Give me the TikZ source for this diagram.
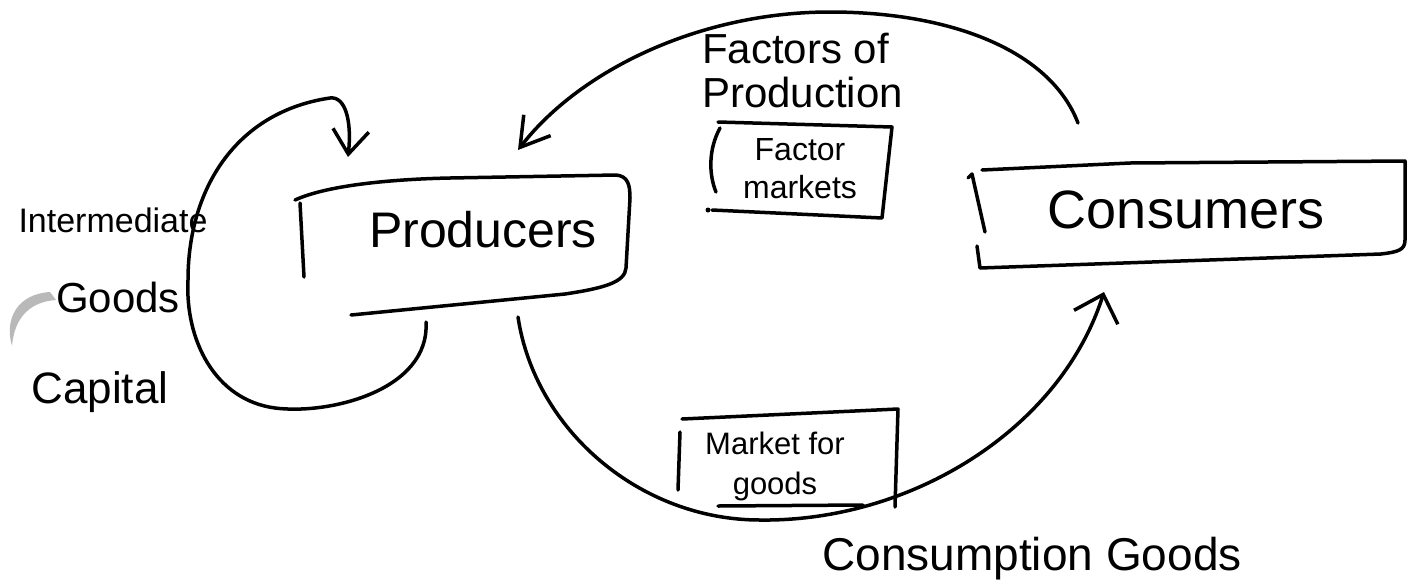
\documentclass[tikz,border=0pt]{standalone}
\usepackage{fontspec}
\setmainfont{Liberation Sans}
\usetikzlibrary{arrows.meta}
\begin{document}
\begin{tikzpicture}[x=1pt,y=-1pt,
  ink/.style={line width=3.5pt, line cap=round, line join=round},
  lbl/.style={inner sep=0pt, text=black},
  fs/.style={font=\fontsize{#1}{#1}\selectfont}]
\useasboundingbox[fill=white] (0,0) rectangle (1411,587);

% ---- labels ----
\node[lbl, fs=50] (prod) at (483,230) {Producers};
\node[lbl, fs=54] (cons) at (1186,210) {Consumers};
\node[lbl, fs=34] (interm) at (113,220) {Intermediate};
\node[lbl, fs=42] (goodsL) at (118,297) {Goods};
\node[lbl, fs=44] (capital) at (100,392) {Capital};
\node[lbl, font=\fontsize{42}{44}\selectfont, align=left, anchor=north west] (fop) at (702,33) {Factors of\\Production};
\node[lbl, font=\fontsize{32}{38}\selectfont, align=center, anchor=north] (fm) at (800,138) {Factor\\markets};
\node[lbl, font=\fontsize{31}{40}\selectfont, align=center, anchor=north] (mg) at (775,432) {Market for\\goods};
\node[lbl, fs=46, anchor=base] (cg) at (1032,570) {Consumption Goods};

% grey smudge near Goods
\fill[gray!55] (50,292) .. controls (18,294) and (4,318) .. (12,346)
  .. controls (14,322) and (26,302) .. (56,300) -- cycle;

% ---- Producers box ----
\draw[ink] (300,203) -- (304,277);
\draw[ink] (295,200) .. controls (330,184) and (400,179) .. (450,178) -- (616,175)
  .. controls (628,176) and (630,185) .. (630,198) -- (626,268)
  .. controls (625,282) and (605,288) .. (565,294) -- (351,315);

% ---- Consumers box ----
\draw[ink] (968,178) -- (972,174) -- (985,232);
\draw[ink] (977,246) -- (980,268) -- (1381,254)
  .. controls (1398,252) and (1405,250) .. (1405,240) -- (1405,161) -- (1130,163) -- (982,170);

% ---- Factor markets box ----
\draw[ink] (718,122) -- (892,127) -- (882,218) -- (712,210);
\draw[ink] (720,128) .. controls (708,150) and (709,175) .. (716,192);
\fill (708,210) circle (2.5pt);

% ---- Market for goods box ----
\draw[ink] (680,432) -- (678,490);
\draw[ink] (682,419) -- (898,409) -- (895,507);
\draw[ink] (718,506) -- (863,505);

% ---- connectors ----
\coordinate (loopS) at (426,322);
\coordinate (loopE) at (348,157);
\draw[ink, -{Straight Barb[length=24pt,width=36pt]}] (loopS)
  .. controls (430,390) and (330,415) .. (275,408)
  .. controls (215,400) and (185,340) .. (188,280)
  .. controls (188,190) and (235,112) .. (330,98)
  .. controls (345,96) and (352,120) .. (loopE);

\coordinate (fopS) at (1078,123);
\coordinate (fopE) at (518,150);
\draw[ink, -{Straight Barb[length=28pt,width=34pt]}] (fopS)
  .. controls (1050,50) and (950,12) .. (830,12)
  .. controls (700,12) and (580,70) .. (fopE);

\coordinate (cgS) at (518,317);
\coordinate (cgE) at (1104,292);
\draw[ink, -{Straight Barb[length=24pt,width=46pt]}] (cgS)
  .. controls (535,430) and (640,520) .. (760,520)
  .. controls (910,522) and (1060,430) .. (cgE);
\end{tikzpicture}
\end{document}
